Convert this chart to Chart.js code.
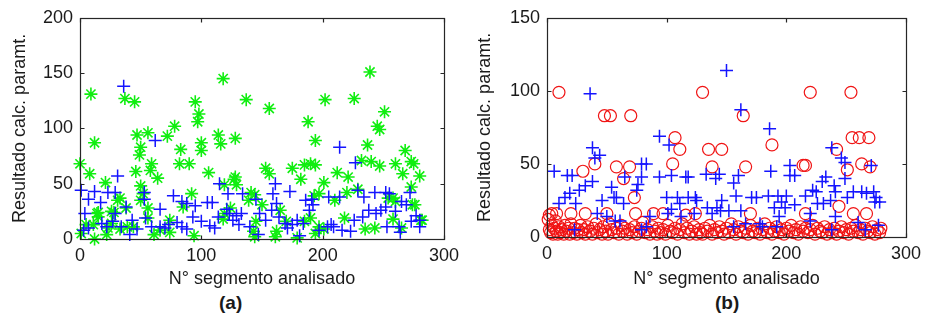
<!DOCTYPE html>
<html>
<head>
<meta charset="utf-8">
<script src="https://cdn.jsdelivr.net/npm/chart.js@4.4.1/dist/chart.umd.min.js"></script>
<style>
  body { margin: 0; background: #fff; }
  #wrap { position: relative; width: 927px; height: 322px; background: #fff; }
  .panel { position: absolute; top: 0; }
  .cap { position: absolute; top: 292px; font: bold 19px 'Liberation Sans', Arial, sans-serif; color: #1a1a1a; }
</style>
</head>
<body>
<div id="wrap">
  <canvas id="chartA" class="panel" style="left:0" width="465" height="290"></canvas>
  <canvas id="chartB" class="panel" style="left:465px" width="462" height="290"></canvas>
  <div class="cap" style="left:219px">(a)</div>
  <div class="cap" style="left:715px">(b)</div>
</div>
<script>
// (a) segment number vs computed parameter
const blueA = [[36,138],[62,89],[214,83],[227,69],[31,57],[115,50],[161,50],[1,44],[12,43],[23,42],[29,42],[53,42],[77,39],[7,36],[84,34],[88,32],[95,30],[105,33],[109,33],[122,41],[134,41],[145,36],[159,41],[173,43],[186,35],[191,36],[205,38],[214,38],[229,44],[234,38],[243,42],[252,42],[255,41],[272,42],[265,34],[4,23],[17,33],[29,23],[38,29],[43,17],[18,14],[3,8],[7,10],[41,4],[47,9],[59,11],[66,27],[66,11],[70,10],[73,13],[80,15],[84,11],[88,9],[93,20],[100,16],[107,12],[111,10],[114,20],[121,27],[123,23],[126,17],[129,21],[133,23],[131,13],[140,11],[147,4],[148,23],[153,17],[158,26],[162,32],[164,20],[169,14],[171,10],[175,13],[179,17],[181,3],[184,14],[189,26],[192,31],[197,8],[204,11],[207,13],[209,11],[216,8],[223,7],[226,17],[233,20],[238,26],[244,23],[248,26],[252,29],[253,11],[260,25],[263,11],[264,6],[269,31],[273,16],[277,21],[280,11],[280,17],[53,36],[22,11],[27,16],[34,11],[54,19]];
const greenA = [[0,68],[9,131],[12,87],[8,59],[21,51],[37,127],[45,124],[47,94],[56,96],[49,76],[50,83],[46,61],[59,68],[58,62],[64,55],[50,48],[72,93],[78,102],[83,81],[82,68],[90,68],[95,124],[98,113],[97,106],[100,87],[100,80],[106,60],[114,94],[116,86],[118,145],[128,91],[128,56],[137,126],[156,118],[153,64],[156,59],[175,64],[182,54],[188,106],[194,89],[185,67],[190,68],[194,67],[202,126],[201,51],[212,60],[221,56],[226,127],[239,151],[237,85],[232,71],[240,70],[245,102],[247,99],[251,115],[247,66],[260,68],[268,80],[266,59],[273,70],[275,68],[280,57],[273,47],[276,31],[282,17],
  [52,41],[92,41],[33,37],[50,35],[38,28],[56,28],[85,29],[15,24],[28,24],[15,20],[56,19],[74,17],[5,13],[11,13],[26,14],[23,10],[39,11],[44,11],[66,8],[1,5],[12,0],[22,4],[61,4],[74,6],[94,3],[33,9],
  [127,54],[129,49],[119,49],[141,42],[144,40],[139,35],[150,31],[197,41],[193,39],[119,23],[118,18],[145,16],[143,7],[144,2],[162,7],[161,2],[179,1],[185,16],[190,19],[194,5],[197,11],[170,16],
  [220,42],[229,45],[258,37],[260,34],[274,31],[218,19],[258,18],[281,17],[235,9],[243,10],[265,10],[201,9],[14,23],[26,25],[31,35],[124,28],[165,26],[210,35],[254,37]];

// (b)
const blueB = [[150,114],[36,98],[162,87],[186,74],[94,69],[38,61],[44,56],[40,54],[102,63],[238,61],[246,54],[249,51],[6,45],[187,45],[271,49],[203,49],[79,50],[83,50],[17,42],[21,42],[38,38],[32,35],[27,32],[19,30],[15,27],[10,23],[24,23],[46,25],[54,34],[56,27],[58,27],[64,23],[65,41],[76,36],[75,32],[79,41],[94,41],[104,42],[100,27],[109,27],[111,23],[116,41],[118,41],[118,27],[125,25],[124,27],[133,43],[144,43],[141,40],[134,20],[146,25],[145,18],[152,18],[156,37],[160,42],[158,28],[162,18],[171,27],[175,27],[185,28],[193,28],[200,28],[190,20],[196,24],[199,20],[207,22],[207,42],[203,42],[216,28],[222,32],[225,31],[233,41],[230,38],[226,23],[231,23],[237,25],[240,35],[241,31],[249,40],[256,31],[251,27],[263,31],[267,30],[273,31],[275,27],[278,24],[274,24],[260,10],[277,8],[266,5],[241,14],[238,5],[220,16],[220,11],[194,14],[192,7],[178,9],[180,7],[166,9],[156,7],[142,20],[138,16],[123,16],[112,14],[104,19],[101,16],[86,14],[83,7],[79,5],[61,11],[57,11],[50,14],[42,16],[23,5]];
const redB = [[10,99],[48,83],[53,83],[70,83],[30,45],[40,50],[58,48],[69,48],[64,40],[73,27],[74,16],[20,16],[32,16],[107,68],[111,60],[105,50],[130,99],[135,60],[146,60],[138,48],[164,83],[166,48],[188,63],[170,16],[220,99],[214,49],[216,49],[242,60],[251,46],[244,21],[254,99],[255,68],[261,68],[269,68],[263,50],[270,48],[256,16],[267,16],[216,16],[2,15],[8,16],[89,16],[97,16],[116,15],[124,16],[50,16],[4,16],
  [1,12],[2,5],[3,3],[4,8],[5,2],[6,6],[7,11],[8,4],[9,2],[10,7],[11,3],[12,5],[14,2],[15,8],[16,4],[18,6],[19,2],[20,9],[22,3],[23,6],[25,2],[26,5],[28,8],[29,3],[31,5],[32,2],[34,7],[36,4],[38,2],[39,6],[41,9],[42,3],[44,5],[46,2],[47,7],[49,4],[51,2],[52,9],[54,5],[56,3],[58,6],[60,2],[62,8],[63,4],[65,6],[67,2],[69,5],[71,3],[73,7],[75,2],[77,4],[79,6],[80,10],[82,3],[84,5],[86,2],[88,7],[90,4],[92,2],[93,6],[95,3],[97,5],[99,2],[101,8],[103,4],[105,3],[107,6],[109,2],[111,5],[113,9],[115,3],[117,6],[119,2],[121,4],[123,7],[125,2],[127,5],[128,3],[130,2],[132,6],[134,4],[136,8],[138,2],[140,5],[142,3],[144,7],[146,4],[148,2],[150,6],[152,3],[154,9],[156,5],[158,2],[160,7],[162,4],[164,3],[166,6],[168,2],[170,8],[172,4],[174,3],[176,6],[178,2],[180,5],[182,9],[184,3],[186,6],[188,2],[190,4],[192,7],[194,3],[196,5],[198,2],[200,6],[202,4],[204,8],[206,3],[208,5],[210,2],[212,7],[214,4],[216,6],[218,3],[220,5],[222,8],[224,2],[226,6],[228,4],[230,3],[232,7],[234,2],[236,5],[238,3],[240,6],[242,2],[244,4],[246,7],[248,3],[250,5],[252,2],[254,6],[256,4],[258,8],[260,3],[262,5],[264,2],[266,6],[268,4],[270,3],[272,7],[274,2],[276,5],[278,3],[279,6]];

const xTitle = 'N° segmento analisado';
const yTitle = 'Resultado calc. paramt.';
const txt = '#1a1a1a';
const fam = "'Liberation Sans', Arial, sans-serif";

const pts = arr => arr.map(p => ({ x: p[0], y: p[1] }));

// matlab-like box with inward ticks on all four sides
const boxTicks = {
  id: 'boxTicks',
  afterDatasetsDraw(chart) {
    const { ctx, chartArea: a, scales: { x, y } } = chart;
    const L = Math.round(a.left) + 0.5, R = Math.round(a.right) + 0.5;
    const T = Math.round(a.top) + 0.5, B = Math.round(a.bottom) + 0.5;
    ctx.save();
    ctx.strokeStyle = '#262626';
    ctx.lineWidth = 1.2;
    ctx.strokeRect(L, T, R - L, B - T);
    ctx.beginPath();
    x.ticks.forEach(t => {
      const px = Math.round(x.getPixelForValue(t.value)) + 0.5;
      ctx.moveTo(px, B); ctx.lineTo(px, B - 4);
      ctx.moveTo(px, T); ctx.lineTo(px, T + 4);
    });
    y.ticks.forEach(t => {
      const py = Math.round(y.getPixelForValue(t.value)) + 0.5;
      ctx.moveTo(L, py); ctx.lineTo(L + 4, py);
      ctx.moveTo(R, py); ctx.lineTo(R - 4, py);
    });
    ctx.stroke();
    ctx.restore();
  }
};

function makeChart (id, datasets, ymax, yw, xh, pad) {
  return new Chart(document.getElementById(id), {
    type: 'scatter',
    data: { datasets: datasets },
    plugins: [boxTicks],
    options: {
      responsive: false,
      animation: false,
      layout: { padding: pad, autoPadding: false },
      plugins: { legend: { display: false }, tooltip: { enabled: false } },
      scales: {
        x: {
          type: 'linear', min: 0, max: 300,
          grid: { display: false, drawTicks: false }, border: { display: false },
          ticks: { stepSize: 100, autoSkip: false, maxRotation: 0, padding: 6, color: txt, font: { family: fam, size: 18 } },
          title: { display: true, text: xTitle, color: txt, font: { family: fam, size: 18 }, padding: { top: 0, bottom: 0 } },
          afterFit: s => { s.height = xh }
        },
        y: {
          min: 0, max: ymax,
          grid: { display: false, drawTicks: false }, border: { display: false },
          ticks: { stepSize: 50, autoSkip: false, padding: 7, color: txt, font: { family: fam, size: 18 } },
          title: { display: true, text: yTitle, color: txt, font: { family: fam, size: 18 }, padding: { top: 9, bottom: 0 } },
          afterFit: s => { s.width = yw }
        }
      }
    }
  });
}

makeChart('chartA', [
  { data: pts(blueA), pointStyle: 'cross', pointRadius: 6.5, borderColor: '#1414ff', pointBorderWidth: 1.5, clip: false, order: 1 },
  { data: pts(greenA), pointStyle: 'star', pointRadius: 6.5, borderColor: '#10ee10', pointBorderWidth: 1.6, clip: false, order: 2 }
], 200, 80, 51, { left: 0, top: 16, right: 20, bottom: 0 });

makeChart('chartB', [
  { data: pts(blueB), pointStyle: 'cross', pointRadius: 6.5, borderColor: '#1414ff', pointBorderWidth: 1.5, clip: false, order: 1 },
  { data: pts(redB), pointStyle: 'circle', pointRadius: 6, borderColor: '#f01414', backgroundColor: 'rgba(0,0,0,0)', pointBorderWidth: 1.2, clip: false, order: 2 }
], 150, 82, 53, { left: 0, top: 14, right: 15, bottom: 0 });
</script>
</body>
</html>
